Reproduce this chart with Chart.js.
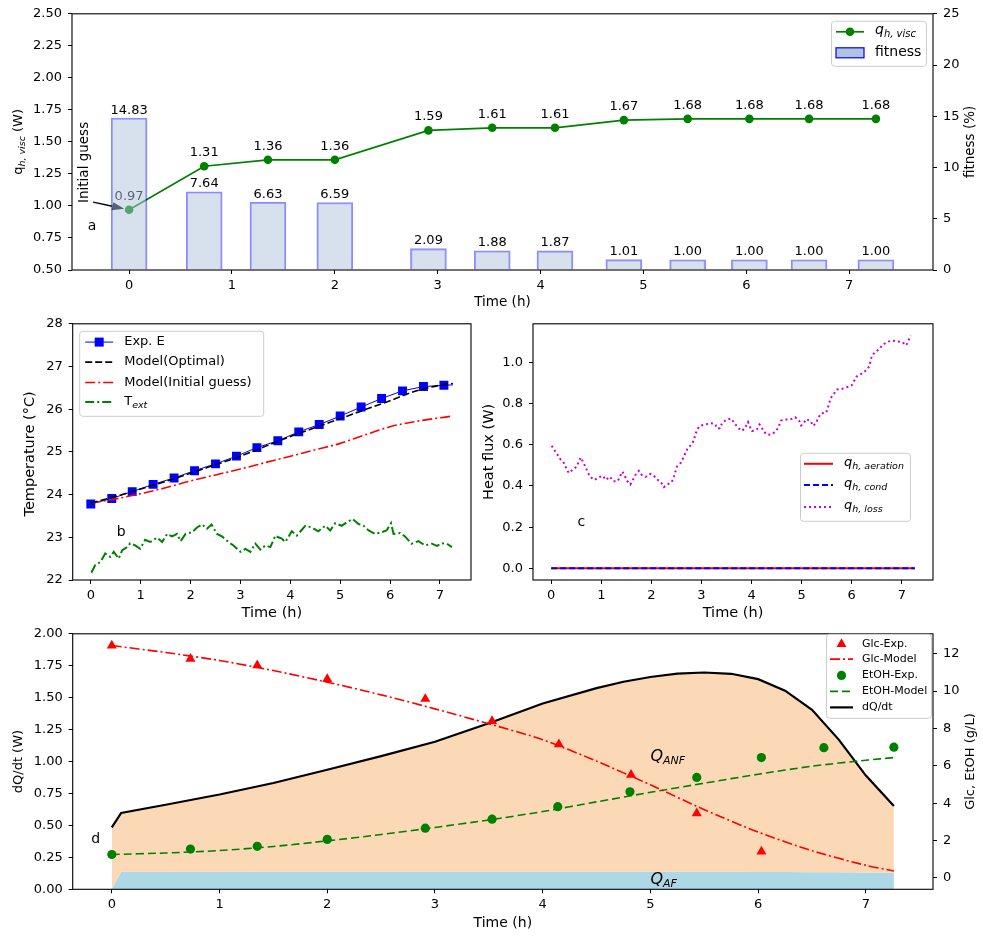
<!DOCTYPE html>
<html lang="en">

<head>
    <meta charset="UTF-8">
    <meta name="viewport" content="width=device-width, initial-scale=1.0">
    <title>Ajuste do calor</title>
    <script src="https://cdn.jsdelivr.net/npm/chart.js"></script>
    <style>
        body { margin: 0; background: #fff; }
        #figura { position: relative; width: 983px; height: 938px; overflow: hidden; background: #fff; }
        #figura canvas { position: absolute; }
    </style>
</head>

<body>

    <div id="figura">
        <canvas id="grafico1" width="983" height="312" style="left:0px; top:0px;"></canvas>
        <canvas id="grafico2" width="480" height="315" style="left:0px; top:310px;"></canvas>
        <canvas id="grafico3" width="503" height="315" style="left:480px; top:310px;"></canvas>
        <canvas id="grafico4" width="983" height="318" style="left:0px; top:620px;"></canvas>
    </div>

<script>

    // ---------- dados painel a ----------
    var tempoExp = [0, 0.73, 1.35, 2.0, 2.91, 3.53, 4.14, 4.81, 5.43, 6.03, 6.61, 7.26];
    var qVisc = [0.97, 1.31, 1.36, 1.36, 1.59, 1.61, 1.61, 1.67, 1.68, 1.68, 1.68, 1.68];
    var fitness = [14.83, 7.64, 6.63, 6.59, 2.09, 1.88, 1.87, 1.01, 1.00, 1.00, 1.00, 1.00];
    var marcasTempo = [0, 1, 2, 3, 4, 5, 6, 7];
    var marcasQVisc = [0.5, 0.75, 1.0, 1.25, 1.5, 1.75, 2.0, 2.25, 2.5];
    var marcasFitness = [0, 5, 10, 15, 20, 25];

    // ---------- dados painel b ----------
    var tempoExpE = [0, 0.42, 0.83, 1.25, 1.67, 2.08, 2.5, 2.92, 3.33, 3.75, 4.17, 4.58, 5.0, 5.42, 5.83, 6.25, 6.67, 7.08, 7.26];
    var tempExpE = [23.78, 23.91, 24.07, 24.24, 24.39, 24.56, 24.72, 24.90, 25.10, 25.26, 25.47, 25.64, 25.84, 26.05, 26.25, 26.43, 26.53, 26.56, 26.57];
    var tempoModeloB = [0, 0.5, 1, 1.5, 2, 2.5, 3, 3.5, 4, 4.5, 5, 5.5, 6, 6.5, 7, 7.26];
    var tempOtimo = [23.8, 23.96, 24.13, 24.31, 24.5, 24.7, 24.9, 25.13, 25.36, 25.57, 25.78, 25.99, 26.2, 26.42, 26.56, 26.6];
    var tempInicial = [23.8, 23.9, 24.02, 24.16, 24.32, 24.46, 24.6, 24.75, 24.9, 25.05, 25.2, 25.4, 25.59, 25.71, 25.8, 25.84];
    var tempoText = [0.01, 0.09, 0.19, 0.29, 0.39, 0.46, 0.56, 0.63, 0.73, 0.79, 0.89, 0.99, 1.09, 1.19, 1.33, 1.43, 1.53, 1.63, 1.73, 1.80,
        1.90, 2.03, 2.13, 2.23, 2.33, 2.42, 2.53, 2.63, 2.76, 2.86, 3.00, 3.10, 3.20, 3.30, 3.40, 3.50, 3.60, 3.70, 3.76, 3.83,
        3.90, 4.03, 4.13, 4.30, 4.43, 4.56, 4.70, 4.80, 4.90, 5.03, 5.13, 5.25, 5.37, 5.47, 5.57, 5.70, 5.83, 5.93, 6.02, 6.07,
        6.20, 6.30, 6.43, 6.57, 6.70, 6.84, 6.94, 7.04, 7.14, 7.24];
    var tempText = [22.17, 22.35, 22.42, 22.62, 22.54, 22.66, 22.50, 22.70, 22.77, 22.86, 22.81, 22.73, 22.94, 22.89, 22.99, 22.89, 23.08, 23.02, 23.08, 22.91,
        23.08, 23.12, 23.23, 23.30, 23.20, 23.30, 23.08, 23.02, 22.89, 22.81, 22.66, 22.73, 22.66, 22.85, 22.71, 22.81, 22.77, 23.04, 23.00, 22.97,
        22.89, 23.14, 23.04, 23.27, 23.23, 23.14, 23.27, 23.16, 23.33, 23.27, 23.35, 23.43, 23.31, 23.27, 23.16, 23.08, 23.12, 23.16, 23.33, 23.08,
        23.10, 23.02, 22.85, 22.91, 22.81, 22.85, 22.80, 22.86, 22.85, 22.77];
    var marcasTemp = [22, 23, 24, 25, 26, 27, 28];

    // ---------- dados painel c ----------
    var tempoZero = [0, 7.26];
    var qAeracao = [0, 0];
    var qCond = [0, 0];
    var tempoPerda = [0.01, 0.07, 0.13, 0.19, 0.26, 0.30, 0.35, 0.43, 0.51, 0.55, 0.59, 0.64, 0.69, 0.73, 0.78, 0.86, 0.95, 1.03, 1.09, 1.17,
        1.24, 1.33, 1.37, 1.42, 1.47, 1.51, 1.58, 1.63, 1.68, 1.75, 1.81, 1.89, 1.98, 2.05, 2.12, 2.19, 2.25, 2.32, 2.41, 2.45,
        2.51, 2.59, 2.64, 2.68, 2.73, 2.81, 2.85, 2.88, 2.91, 2.97, 3.08, 3.18, 3.27, 3.32, 3.37, 3.41, 3.49, 3.59, 3.66, 3.73,
        3.80, 3.86, 3.93, 3.97, 4.01, 4.11, 4.16, 4.20, 4.24, 4.32, 4.41, 4.50, 4.55, 4.59, 4.69, 4.79, 4.87, 4.95, 4.99, 5.03,
        5.09, 5.18, 5.23, 5.29, 5.33, 5.39, 5.49, 5.55, 5.58, 5.65, 5.71, 5.81, 5.90, 6.00, 6.05, 6.10, 6.20, 6.29, 6.35, 6.40,
        6.46, 6.55, 6.61, 6.70, 6.80, 6.91, 7.01, 7.09, 7.13, 7.18];
    var qPerda = [0.595, 0.572, 0.55, 0.527, 0.51, 0.485, 0.463, 0.479, 0.493, 0.518, 0.538, 0.514, 0.49, 0.466, 0.444, 0.429, 0.442, 0.449, 0.429, 0.445,
        0.423, 0.423, 0.445, 0.469, 0.449, 0.425, 0.407, 0.429, 0.453, 0.473, 0.453, 0.444, 0.458, 0.449, 0.431, 0.418, 0.394, 0.407, 0.42, 0.445,
        0.493, 0.513, 0.537, 0.561, 0.585, 0.601, 0.625, 0.649, 0.673, 0.691, 0.698, 0.704, 0.701, 0.678, 0.68, 0.704, 0.72, 0.727, 0.704, 0.683,
        0.667, 0.677, 0.71, 0.686, 0.666, 0.675, 0.698, 0.686, 0.664, 0.648, 0.651, 0.669, 0.693, 0.717, 0.722, 0.724, 0.733, 0.717, 0.693, 0.70,
        0.724, 0.715, 0.691, 0.706, 0.73, 0.752, 0.755, 0.80, 0.826, 0.849, 0.868, 0.871, 0.878, 0.888, 0.91, 0.931, 0.945, 0.961, 0.979, 1.029,
        1.048, 1.063, 1.082, 1.098, 1.105, 1.101, 1.097, 1.082, 1.105, 1.129];
    var marcasFluxo = [0, 0.2, 0.4, 0.6, 0.8, 1.0];

    // ---------- dados painel d ----------
    var tempoGlc = [0, 0.73, 1.35, 2.0, 2.91, 3.53, 4.15, 4.82, 5.43, 6.03];
    var glcExp = [12.44, 11.73, 11.38, 10.64, 9.58, 8.40, 7.15, 5.52, 3.46, 1.41];
    var etohExp = [1.25, 1.54, 1.69, 2.06, 2.66, 3.14, 3.81, 4.61, 5.38, 6.44, 6.97, 7.0];
    var tempoModeloD = [0, 0.5, 1, 1.5, 2, 2.5, 3, 3.5, 4, 4.5, 5, 5.5, 6, 6.5, 7, 7.26];
    var glcModelo = [12.44, 12.07, 11.64, 11.1, 10.48, 9.8, 9.05, 8.25, 7.4, 6.25, 4.98, 3.65, 2.45, 1.45, 0.67, 0.37];
    var etohModelo = [1.25, 1.33, 1.46, 1.68, 1.98, 2.32, 2.7, 3.1, 3.55, 4.07, 4.58, 5.07, 5.55, 5.98, 6.3, 6.44];
    var tempoDq = [0, 0.087, 0.5, 1, 1.5, 2, 2.5, 3, 3.5, 4, 4.5, 4.75, 5, 5.25, 5.5, 5.75, 6, 6.25, 6.5, 6.75, 7, 7.26];
    var dqdt = [0.485, 0.598, 0.662, 0.742, 0.832, 0.936, 1.042, 1.155, 1.30, 1.455, 1.575, 1.625, 1.662, 1.688, 1.697, 1.687, 1.645, 1.555, 1.405, 1.17, 0.89, 0.652];
    var qAF = [0, 0.137, 0.137, 0.137, 0.137, 0.137, 0.137, 0.137, 0.137, 0.137, 0.137, 0.137, 0.137, 0.137, 0.137, 0.137, 0.136, 0.135, 0.134, 0.133, 0.132, 0.132];
    var marcasDq = [0, 0.25, 0.5, 0.75, 1.0, 1.25, 1.5, 1.75, 2.0];
    var marcasConc = [0, 2, 4, 6, 8, 10, 12];

    Chart.defaults.font.family = '"DejaVu Sans"';
    Chart.defaults.font.size = 13;
    Chart.defaults.color = '#000';

    function pontos(xs, ys) {
        return xs.map(function (x, i) { return { x: x, y: ys[i] }; });
    }

    function fonte(tam, italico) {
        return (italico ? 'italic ' : '') + tam + 'px "DejaVu Sans"';
    }

    // partes: [texto, tamanho, italico, deslocamento vertical]
    function texto(c, partes, x, y, centro, cor) {
        c.save();
        c.fillStyle = cor || '#000';
        c.textBaseline = 'middle';
        c.textAlign = 'left';
        var total = 0;
        partes.forEach(function (p) { c.font = fonte(p[1], p[2]); total += c.measureText(p[0]).width; });
        var px = centro ? x - total / 2 : x;
        partes.forEach(function (p) {
            c.font = fonte(p[1], p[2]);
            c.fillText(p[0], px, y + (p[3] || 0));
            px += c.measureText(p[0]).width;
        });
        c.restore();
    }

    function textoVertical(c, partes, x, y) {
        c.save();
        c.translate(x, y);
        c.rotate(-Math.PI / 2);
        texto(c, partes, 0, 0, true);
        c.restore();
    }

    function caixa(c, x, y, w, h) {
        c.save();
        c.fillStyle = 'rgba(255,255,255,0.8)';
        c.strokeStyle = '#cccccc';
        c.lineWidth = 1;
        c.beginPath();
        c.roundRect(x + 0.5, y + 0.5, w, h, 3);
        c.fill();
        c.stroke();
        c.restore();
    }

    function traco(c, x1, x2, y, cor, esp, tracejado) {
        c.save();
        c.strokeStyle = cor;
        c.lineWidth = esp;
        c.setLineDash(tracejado || []);
        c.beginPath();
        c.moveTo(x1, y);
        c.lineTo(x2, y);
        c.stroke();
        c.restore();
    }

    function bolinha(c, x, y, r, cor) {
        c.save();
        c.fillStyle = cor;
        c.beginPath();
        c.arc(x, y, r, 0, Math.PI * 2);
        c.fill();
        c.restore();
    }

    function triangulo(c, x, y, r, cor) {
        c.save();
        c.fillStyle = cor;
        c.beginPath();
        c.moveTo(x, y - r);
        c.lineTo(x + r * 0.9, y + r * 0.6);
        c.lineTo(x - r * 0.9, y + r * 0.6);
        c.closePath();
        c.fill();
        c.restore();
    }

    function moldura(chart) {
        var a = chart.chartArea, c = chart.ctx;
        c.save();
        c.strokeStyle = '#000';
        c.lineWidth = 1.1;
        c.strokeRect(a.left, a.top, a.right - a.left, a.bottom - a.top);
        c.restore();
    }

    function eixoX(min, max, titulo, tamTitulo, altura, padTitulo) {
        return {
            type: 'linear', position: 'bottom', min: min, max: max, offset: false,
            afterBuildTicks: function (s) { s.ticks = marcasTempo.map(function (v) { return { value: v }; }); },
            afterFit: function (s) { s.height = altura; },
            ticks: { color: '#000', font: { size: 13 }, padding: 4, maxRotation: 0, autoSkip: false, callback: function (v) { return String(v); } },
            grid: { drawOnChartArea: false, drawTicks: true, tickLength: 4, color: '#000', tickColor: '#000', offset: false },
            border: { display: false },
            title: { display: true, text: titulo, color: '#000', font: { size: tamTitulo }, padding: { top: 0, bottom: padTitulo } }
        };
    }

    function eixoY(pos, min, max, marcas, casas, largura) {
        return {
            type: 'linear', position: pos, min: min, max: max,
            afterBuildTicks: function (s) { s.ticks = marcas.map(function (v) { return { value: v }; }); },
            afterFit: function (s) { s.width = largura; },
            ticks: { color: '#000', font: { size: 13 }, padding: 6, autoSkip: false, callback: function (v) { return Number(v).toFixed(casas); } },
            grid: { drawOnChartArea: false, drawTicks: true, tickLength: 4, color: '#000', tickColor: '#000' },
            border: { display: false }
        };
    }

    function opcoesBase(padding, escalas) {
        return {
            responsive: false,
            animation: false,
            events: [],
            layout: { padding: padding },
            plugins: { legend: { display: false }, tooltip: { enabled: false } },
            scales: escalas
        };
    }

    // ================= painel a =================
    new Chart(document.getElementById('grafico1'), {
        type: 'bar',
        data: {
            datasets: [{
                type: 'bar',
                label: 'fitness',
                data: pontos(tempoExp, fitness),
                yAxisID: 'y1',
                backgroundColor: 'rgba(176,196,222,0.5)',
                borderColor: 'rgba(0,0,255,0.45)',
                borderWidth: 1.5,
                borderSkipped: 'bottom',
                barThickness: 36
            }, {
                type: 'line',
                label: 'q_h,visc',
                data: pontos(tempoExp, qVisc),
                yAxisID: 'y',
                borderColor: '#008000',
                backgroundColor: '#008000',
                borderWidth: 1.7,
                pointRadius: 4.3,
                pointBorderWidth: 0,
                pointBackgroundColor: '#008000'
            }]
        },
        options: opcoesBase({ top: 12, left: 0, right: 0, bottom: 0 }, {
            x: eixoX(-0.555, 7.815, 'Time (h)', 13.5, 42, 1),
            y: eixoY('left', 0.5, 2.5, marcasQVisc, 2, 72),
            y1: eixoY('right', 0, 25, marcasFitness, 0, 50)
        }),
        plugins: [{
            id: 'anotacoesA',
            beforeDatasetsDraw: function (chart) {
                var c = chart.ctx, sx = chart.scales.x, sy = chart.scales.y;
                // seta do chute inicial
                var x0 = sx.getPixelForValue(-0.35), y0 = sy.getPixelForValue(1.03);
                var x1 = sx.getPixelForValue(tempoExp[0]), y1 = sy.getPixelForValue(qVisc[0]);
                var dx = x1 - x0, dy = y1 - y0, d = Math.sqrt(dx * dx + dy * dy);
                var ux = dx / d, uy = dy / d;
                var px = x1 - ux * 5, py = y1 - uy * 5;
                var bx = px - ux * 12, by = py - uy * 12;
                c.save();
                c.strokeStyle = '#000';
                c.lineWidth = 1.3;
                c.beginPath();
                c.moveTo(x0, y0);
                c.lineTo(bx, by);
                c.stroke();
                c.fillStyle = '#000';
                c.beginPath();
                c.moveTo(px, py);
                c.lineTo(bx - uy * 4, by + ux * 4);
                c.lineTo(bx + uy * 4, by - ux * 4);
                c.closePath();
                c.fill();
                c.restore();
                textoVertical(c, [['Initial guess', 13.5, false]], sx.getPixelForValue(-0.435), sy.getPixelForValue(1.34));
                texto(c, [['a', 14, false]], sx.getPixelForValue(-0.36), sy.getPixelForValue(0.84), true);
            },
            afterDatasetDraw: function (chart, args) {
                var c = chart.ctx;
                c.save();
                c.fillStyle = '#000';
                c.font = fonte(13, false);
                c.textAlign = 'center';
                c.textBaseline = 'alphabetic';
                args.meta.data.forEach(function (el, i) {
                    if (args.index === 1) c.fillText(qVisc[i].toFixed(2), el.x, el.y - 10);
                    else c.fillText(fitness[i].toFixed(2), el.x, el.y - 4.5);
                });
                c.restore();
            },
            afterDraw: function (chart) {
                var c = chart.ctx, a = chart.chartArea;
                moldura(chart);
                var cy = (a.top + a.bottom) / 2;
                textoVertical(c, [['q', 13, false], ['h, visc', 9.5, true, 3.5], [' (W)', 13, false]], 19, cy);
                textoVertical(c, [['fitness (%)', 13.5, false]], 970, cy);
                // legenda
                var lx = a.right - 102, ly = a.top + 7;
                caixa(c, lx, ly, 95, 45);
                traco(c, lx + 5, lx + 33, ly + 11, '#008000', 1.7);
                bolinha(c, lx + 19, ly + 11, 4.3, '#008000');
                texto(c, [['q', 14, true], ['h, visc', 10, true, 4]], lx + 44, ly + 10);
                c.save();
                c.fillStyle = '#b0c4de';
                c.strokeStyle = '#0000ff';
                c.lineWidth = 1.2;
                c.fillRect(lx + 5, ly + 27, 28, 10);
                c.strokeRect(lx + 5, ly + 27, 28, 10);
                c.restore();
                texto(c, [['fitness', 14, false]], lx + 44, ly + 32);
            }
        }]
    });

    // ================= painel b =================
    new Chart(document.getElementById('grafico2'), {
        type: 'line',
        data: {
            datasets: [{
                label: 'Model(Optimal)',
                data: pontos(tempoModeloB, tempOtimo),
                borderColor: '#000',
                borderWidth: 1.6,
                borderDash: [7, 3],
                pointRadius: 0,
                cubicInterpolationMode: 'monotone'
            }, {
                label: 'Model(Initial guess)',
                data: pontos(tempoModeloB, tempInicial),
                borderColor: '#ff0000',
                borderWidth: 1.6,
                borderDash: [10, 3, 2, 3],
                pointRadius: 0,
                cubicInterpolationMode: 'monotone'
            }, {
                label: 'T_ext',
                data: pontos(tempoText, tempText),
                borderColor: '#008000',
                borderWidth: 2,
                borderDash: [9, 3, 2, 3],
                pointRadius: 0
            }, {
                label: 'Exp. E',
                data: pontos(tempoExpE, tempExpE),
                borderColor: '#0000ff',
                backgroundColor: '#0000ff',
                borderWidth: 1,
                pointStyle: 'rect',
                pointRadius: function (ctx) { return ctx.dataIndex < tempoExpE.length - 1 ? 6.3 : 0; },
                pointBorderWidth: 0,
                pointBackgroundColor: '#0000ff'
            }]
        },
        options: opcoesBase({ top: 11, left: 0, right: 9, bottom: 0 }, {
            x: eixoX(-0.363, 7.623, 'Time (h)', 14.5, 45, 3),
            y: eixoY('left', 22, 28, marcasTemp, 0, 72.7)
        }),
        plugins: [{
            id: 'anotacoesB',
            afterDraw: function (chart) {
                var c = chart.ctx, a = chart.chartArea;
                var sx = chart.scales.x, sy = chart.scales.y;
                moldura(chart);
                textoVertical(c, [['Temperature (°C)', 14.5, false]], 30, (a.top + a.bottom) / 2 + 2);
                texto(c, [['b', 14, false]], sx.getPixelForValue(0.61), sy.getPixelForValue(23.11), true);
                // legenda
                var lx = a.left + 6.5, ly = a.top + 7;
                caixa(c, lx, ly, 184, 85);
                traco(c, lx + 6, lx + 34, ly + 11.3, '#0000ff', 1);
                c.save();
                c.fillStyle = '#0000ff';
                c.fillRect(lx + 20 - 4.5, ly + 11.3 - 4.5, 9, 9);
                c.restore();
                texto(c, [['Exp. E', 13, false]], lx + 45, ly + 11.3);
                traco(c, lx + 6, lx + 34, ly + 31.3, '#000', 1.6, [7, 3]);
                texto(c, [['Model(Optimal)', 13, false]], lx + 45, ly + 31.3);
                traco(c, lx + 6, lx + 34, ly + 51.7, '#ff0000', 1.6, [10, 3, 2, 3]);
                texto(c, [['Model(Initial guess)', 13, false]], lx + 45, ly + 51.7);
                traco(c, lx + 6, lx + 34, ly + 71.3, '#008000', 2, [9, 3, 2, 3]);
                texto(c, [['T', 13, false], ['ext', 9.5, true, 4]], lx + 45, ly + 70.5);
            }
        }]
    });

    // ================= painel c =================
    new Chart(document.getElementById('grafico3'), {
        type: 'line',
        data: {
            datasets: [{
                label: 'q_h,loss',
                data: pontos(tempoPerda, qPerda),
                borderColor: '#cc00cc',
                borderWidth: 2,
                borderDash: [2, 3],
                pointRadius: 0
            }, {
                label: 'q_h,cond',
                data: pontos(tempoZero, qCond),
                borderColor: '#0000ff',
                borderWidth: 2,
                borderDash: [6, 3],
                pointRadius: 0
            }, {
                label: 'q_h,aeration',
                data: pontos(tempoZero, qAeracao),
                borderColor: '#ff0000',
                borderWidth: 2,
                pointRadius: 0
            }]
        },
        options: opcoesBase({ top: 11, left: 0, right: 50, bottom: 0 }, {
            x: eixoX(-0.363, 7.623, 'Time (h)', 14.5, 45, 3),
            y: eixoY('left', -0.0565, 1.1865, marcasFluxo, 1, 53)
        }),
        plugins: [{
            id: 'anotacoesC',
            afterDraw: function (chart) {
                var c = chart.ctx, a = chart.chartArea;
                var sx = chart.scales.x, sy = chart.scales.y;
                moldura(chart);
                textoVertical(c, [['Heat flux (W)', 14.5, false]], 9.5, (a.top + a.bottom) / 2);
                texto(c, [['c', 14, false]], sx.getPixelForValue(0.6), sy.getPixelForValue(0.223), true);
                // legenda
                var lx = a.right - 133, ly = a.top + 129;
                caixa(c, lx, ly, 110, 68);
                traco(c, lx + 4, lx + 33, ly + 11, '#ff0000', 2);
                texto(c, [['q', 13, true], ['h, aeration', 9.5, true, 3.5]], lx + 44, ly + 10);
                traco(c, lx + 4, lx + 33, ly + 32.3, '#0000ff', 2, [6, 3]);
                texto(c, [['q', 13, true], ['h, cond', 9.5, true, 3.5]], lx + 44, ly + 31.3);
                traco(c, lx + 4, lx + 33, ly + 54.3, '#cc00cc', 2, [2, 3]);
                texto(c, [['q', 13, true], ['h, loss', 9.5, true, 3.5]], lx + 44, ly + 53.3);
            }
        }]
    });

    // ================= painel d =================
    new Chart(document.getElementById('grafico4'), {
        type: 'line',
        data: {
            datasets: [{
                label: 'Glc-Exp.',
                data: pontos(tempoGlc, glcExp),
                yAxisID: 'y1',
                showLine: false,
                pointStyle: 'triangle',
                pointRadius: 5.8,
                pointBorderWidth: 0,
                pointBackgroundColor: '#ff0000',
                borderColor: '#ff0000'
            }, {
                label: 'Glc-Model',
                data: pontos(tempoModeloD, glcModelo),
                yAxisID: 'y1',
                borderColor: '#ff0000',
                borderWidth: 1.6,
                borderDash: [10, 3, 2, 3],
                pointRadius: 0,
                tension: 0.25
            }, {
                label: 'EtOH-Exp.',
                data: pontos(tempoExp, etohExp),
                yAxisID: 'y1',
                showLine: false,
                pointRadius: 4.6,
                pointBorderWidth: 0,
                pointBackgroundColor: '#008000',
                borderColor: '#008000'
            }, {
                label: 'EtOH-Model',
                data: pontos(tempoModeloD, etohModelo),
                yAxisID: 'y1',
                borderColor: '#008000',
                borderWidth: 1.6,
                borderDash: [8, 4],
                pointRadius: 0,
                tension: 0.25
            }, {
                label: 'dQ/dt',
                data: pontos(tempoDq, dqdt),
                yAxisID: 'y',
                borderColor: '#000',
                borderWidth: 2.2,
                pointRadius: 0,
                fill: '+1',
                backgroundColor: '#fcd9b6',
                tension: 0
            }, {
                label: 'Q_AF',
                data: pontos(tempoDq, qAF),
                yAxisID: 'y',
                borderWidth: 0,
                borderColor: 'rgba(0,0,0,0)',
                pointRadius: 0,
                fill: 'origin',
                backgroundColor: '#add8e6'
            }]
        },
        options: opcoesBase({ top: 10.7, left: 0, right: 0, bottom: 0 }, {
            x: eixoX(-0.363, 7.623, 'Time (h)', 14, 48.7, 6),
            y: eixoY('left', 0, 2, marcasDq, 2, 72.7),
            y1: eixoY('right', -0.614, 13.07, marcasConc, 0, 50)
        }),
        plugins: [{
            id: 'anotacoesD',
            afterDraw: function (chart) {
                var c = chart.ctx, a = chart.chartArea;
                var sx = chart.scales.x, sy = chart.scales.y;
                moldura(chart);
                var cy = (a.top + a.bottom) / 2;
                textoVertical(c, [['dQ/dt (W)', 13, false]], 18.5, cy);
                textoVertical(c, [['Glc, EtOH (g/L)', 13, false]], 971, cy);
                texto(c, [['d', 14, false]], sx.getPixelForValue(-0.15), sy.getPixelForValue(0.39), true);
                texto(c, [['Q', 16, true], ['ANF', 11, true, 5]], sx.getPixelForValue(5.0), sy.getPixelForValue(1.04));
                texto(c, [['Q', 16, true], ['AF', 11, true, 5]], sx.getPixelForValue(5.0), sy.getPixelForValue(0.077));
                // legenda
                var lx = a.right - 107, ly = a.top;
                caixa(c, lx, ly, 105, 84);
                triangulo(c, lx + 15.5, ly + 10, 5.5, '#ff0000');
                texto(c, [['Glc-Exp.', 11, false]], lx + 36, ly + 10);
                traco(c, lx + 4, lx + 27, ly + 25.3, '#ff0000', 1.6, [10, 3, 2, 3]);
                texto(c, [['Glc-Model', 11, false]], lx + 36, ly + 25.3);
                bolinha(c, lx + 15.5, ly + 41.6, 4.6, '#008000');
                texto(c, [['EtOH-Exp.', 11, false]], lx + 36, ly + 41.6);
                traco(c, lx + 4, lx + 27, ly + 57.6, '#008000', 1.6, [8, 4]);
                texto(c, [['EtOH-Model', 11, false]], lx + 36, ly + 57.6);
                traco(c, lx + 4, lx + 27, ly + 73.6, '#000', 2.2);
                texto(c, [['dQ/dt', 11, false]], lx + 36, ly + 73.6);
            }
        }]
    });

</script>
</body>

</html>
